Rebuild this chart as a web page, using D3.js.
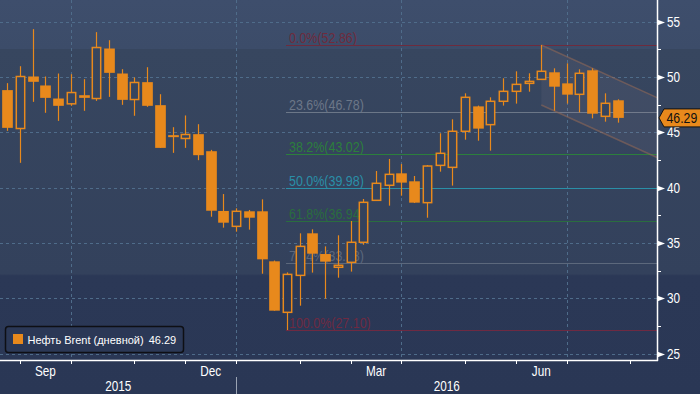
<!DOCTYPE html>
<html>
<head>
<meta charset="utf-8">
<script src="https://cdn.jsdelivr.net/npm/d3@7"></script>
<style>
  body { margin: 0; background: #2b3856; }
  svg { display: block; font-family: "Liberation Sans", Arial, sans-serif; }
</style>
</head>
<body>
<svg id="chart" width="700" height="394"></svg>
<script>
// Weekly candles (week ending Friday)
const weeks = [
  "2015-08-28", "2015-09-04", "2015-09-11", "2015-09-18", "2015-09-25",
  "2015-10-02", "2015-10-09", "2015-10-16", "2015-10-23", "2015-10-30",
  "2015-11-06", "2015-11-13", "2015-11-20", "2015-11-27",
  "2015-12-04", "2015-12-11", "2015-12-18", "2015-12-25",
  "2016-01-01", "2016-01-08", "2016-01-15", "2016-01-22", "2016-01-29",
  "2016-02-05", "2016-02-12", "2016-02-19", "2016-02-26",
  "2016-03-04", "2016-03-11", "2016-03-18", "2016-03-25",
  "2016-04-01", "2016-04-08", "2016-04-15", "2016-04-22", "2016-04-29",
  "2016-05-06", "2016-05-13", "2016-05-20", "2016-05-27",
  "2016-06-03", "2016-06-10", "2016-06-17", "2016-06-24",
  "2016-07-01", "2016-07-08", "2016-07-15", "2016-07-22", "2016-07-29",
];
const opens = [
  48.80, 45.33, 50.03, 49.22, 48.04, 47.56, 48.34, 48.04, 52.56, 50.30,
  47.95, 49.52, 47.44, 44.73, 44.43, 44.82, 43.28, 37.88, 36.49, 37.85,
  37.85, 33.33, 28.72, 32.06, 35.86, 33.99, 32.79, 33.24, 35.05, 38.84,
  40.20, 41.28, 40.56, 38.63, 42.00, 41.82, 45.08, 47.33, 45.68, 47.79,
  48.69, 49.41, 49.77, 50.41, 49.41, 48.42, 50.59, 46.43, 47.88,
];
const highs = [
  49.43, 50.96, 54.31, 50.03, 50.30, 50.24, 49.79, 54.04, 53.31, 50.69,
  49.94, 50.87, 48.43, 45.45, 46.51, 45.72, 43.40, 39.41, 38.12, 37.97,
  38.93, 33.40, 32.33, 35.86, 36.22, 34.68, 35.68, 36.97, 38.96, 41.49,
  42.58, 42.12, 41.04, 42.03, 44.90, 46.16, 48.51, 47.40, 48.15, 49.87,
  50.50, 50.32, 52.88, 50.77, 51.22, 50.68, 50.77, 48.51, 47.97,
];
const lows = [
  45.12, 42.23, 47.74, 46.75, 46.02, 47.38, 46.93, 47.83, 48.19, 47.47,
  46.48, 47.29, 43.58, 43.13, 43.58, 42.47, 37.36, 36.37, 36.01, 36.19,
  32.21, 28.87, 27.12, 29.32, 32.31, 29.96, 31.85, 32.40, 34.83, 38.80,
  38.36, 39.26, 38.60, 37.27, 41.43, 40.17, 44.32, 44.23, 43.33, 47.40,
  47.58, 48.66, 49.77, 46.94, 47.58, 46.79, 46.25, 45.95, 45.86,
];
const closes = [
  45.39, 50.03, 49.55, 48.10, 47.38, 48.58, 48.10, 52.65, 50.36, 47.92,
  49.49, 47.38, 43.58, 44.55, 44.79, 42.92, 37.90, 36.82, 37.85, 37.27,
  33.51, 28.87, 32.15, 34.68, 34.02, 33.30, 32.97, 35.05, 38.66, 40.38,
  41.19, 40.44, 38.63, 41.94, 43.09, 45.08, 48.15, 45.32, 47.79, 48.69,
  49.32, 49.59, 50.50, 49.11, 48.39, 50.32, 46.67, 47.61, 46.29,
];

// Fibonacci retracement levels
const fibLabels = ["0.0%", "23.6%", "38.2%", "50.0%", "61.8%", "76.4%", "100.0%"];
const fibValues = [52.86, 46.78, 43.02, 39.98, 36.94, 33.18, 27.10];
const fibColors = ["#6e2b3d", "#6c7788", "#2c7f3c", "#2a8fa8", "#2a6d3f", "#5c687c", "#6e2a42"];
const fibStart = "2016-01-29";

// Falling channel
const channelDates = ["2016-06-17", "2016-08-20"];
const channelUpper = [52.88, 48.1];
const channelLower = [47.46, 42.68];

// Axis ticks
const yTicks = [25, 30, 35, 40, 45, 50, 55];
const yMinorTicks = [27.5, 32.5, 37.5, 42.5, 47.5, 52.5];
const monthTicks = [
  "2015-09-04", "2015-10-02", "2015-11-06", "2015-12-04", "2016-01-01", "2016-02-05",
  "2016-03-04", "2016-04-01", "2016-05-06", "2016-06-03", "2016-07-01", "2016-08-05",
];
const monthLabels = [
  { text: "Sep", from: "2015-09-04", to: "2015-10-02" },
  { text: "Dec", from: "2015-12-04", to: "2016-01-01" },
  { text: "Mar", from: "2016-03-04", to: "2016-04-01" },
  { text: "Jun", from: "2016-06-03", to: "2016-07-01" },
];
const gridDates = ["2015-10-02", "2016-01-01", "2016-04-01", "2016-07-01"];
const yearLabels = ["2015", "2016"];
const yearBreak = "2016-01-01";

const seriesName = "Нефть Brent (дневной)";
const lastValue = "46.29";

const parse = d3.timeParse("%Y-%m-%d");
const orange = "#e8891c";
const dims = { width: 700, height: 394, plotRight: 657, plotBottom: 360 };

const candles = weeks.map((w, i) => ({
  date: parse(w),
  open: opens[i],
  high: highs[i],
  low: lows[i],
  close: closes[i],
}));

const svg = d3.select("#chart");

// Narrow terminal-style lettering: squeeze text horizontally around its anchor
function squeeze(sel, px, py, sx) {
  return sel.attr("transform", (d, i) => {
    const xx = typeof px === "function" ? px(d, i) : px;
    const yy = typeof py === "function" ? py(d, i) : py;
    return `translate(${xx},${yy}) scale(${sx},1)`;
  });
}

// Background bands
const defs = svg.append("defs");
const grad = defs
  .append("linearGradient")
  .attr("id", "bg")
  .attr("gradientUnits", "userSpaceOnUse")
  .attr("x1", 0).attr("y1", 0).attr("x2", 0).attr("y2", dims.height);
[
  [0, "#3e4e6c"], [0.124, "#3c4c69"], [0.125, "#37465f"],
  [0.695, "#33415c"], [0.7, "#2b3856"], [1, "#2a3755"],
].forEach(([o, c]) => grad.append("stop").attr("offset", o).attr("stop-color", c));
svg.append("rect").attr("width", dims.width).attr("height", dims.height).attr("fill", "url(#bg)");

// Scales
const x = d3
  .scaleTime()
  .domain([parse("2015-08-28"), parse("2016-08-05")])
  .range([7.3, 630.3]);

const y = d3.scaleLinear().domain([25, 55]).range([353.5, 21.5]);

const step = x(parse("2015-09-04")) - x(parse("2015-08-28"));

// Gridlines
svg
  .append("g")
  .selectAll("line")
  .data(yTicks)
  .join("line")
  .attr("x1", 0)
  .attr("x2", dims.plotRight)
  .attr("y1", (d) => Math.round(y(d)) + 0.5)
  .attr("y2", (d) => Math.round(y(d)) + 0.5)
  .attr("stroke", "#4f6c8a")
  .attr("stroke-dasharray", "3,3");

svg
  .append("g")
  .selectAll("line")
  .data(gridDates)
  .join("line")
  .attr("x1", (d) => Math.round(x(parse(d))) + 0.5)
  .attr("x2", (d) => Math.round(x(parse(d))) + 0.5)
  .attr("y1", 0)
  .attr("y2", dims.plotBottom)
  .attr("stroke", "#4f6c8a")
  .attr("stroke-dasharray", "3,3");

// Fibonacci lines and labels
const fib = svg.append("g");
const fibX = x(parse(fibStart)) - 1;
fibValues.forEach((v, i) => {
  const yy = Math.round(y(v)) + 0.5;
  fib
    .append("line")
    .attr("x1", fibX)
    .attr("x2", dims.plotRight)
    .attr("y1", yy)
    .attr("y2", yy)
    .attr("stroke", fibColors[i])
    .attr("stroke-width", 1.2);
  fib
    .append("text")
    .call(squeeze, fibX + 3, yy - 2.5, 0.89)
    .attr("fill", fibColors[i])
    .style("font-size", "14px")
    .text(`${fibLabels[i]}(${v.toFixed(2)})`);
});

// Channel
const chan = channelDates.map((d, i) => ({ date: parse(d), hi: channelUpper[i], lo: channelLower[i] }));
svg
  .append("path")
  .datum(chan)
  .attr("d", d3.area().x((d) => x(d.date)).y0((d) => y(d.lo)).y1((d) => y(d.hi)))
  .attr("fill", "rgba(200,170,180,0.07)");
["hi", "lo"].forEach((k) => {
  svg
    .append("path")
    .datum(chan)
    .attr("d", d3.line().x((d) => x(d.date)).y((d) => y(d[k])))
    .attr("fill", "none")
    .attr("stroke", "rgba(150,105,85,0.55)")
    .attr("stroke-width", 1.6);
});

// Candles
const candleG = svg.append("g").selectAll("g").data(candles).join("g");

candleG
  .append("line")
  .attr("x1", (d) => Math.round(x(d.date)) + 0.5)
  .attr("x2", (d) => Math.round(x(d.date)) + 0.5)
  .attr("y1", (d) => y(d.high))
  .attr("y2", (d) => y(d.low))
  .attr("stroke", orange)
  .attr("stroke-width", 1.2);

// Down weeks: solid bodies
candleG
  .filter((d) => d.close < d.open)
  .append("rect")
  .attr("x", (d) => Math.round(x(d.date)) + 0.5 - step * 0.42)
  .attr("width", step * 0.84)
  .attr("y", (d) => y(d.open))
  .attr("height", (d) => Math.max(1.5, y(d.close) - y(d.open)))
  .attr("fill", orange);

// Up weeks: hollow bodies
candleG
  .filter((d) => d.close >= d.open)
  .append("rect")
  .attr("x", (d) => Math.round(x(d.date)) + 0.5 - step * 0.33)
  .attr("width", step * 0.66)
  .attr("y", (d) => y(d.close))
  .attr("height", (d) => Math.max(1.5, y(d.open) - y(d.close)))
  .attr("fill", "url(#bg)")
  .attr("stroke", orange)
  .attr("stroke-width", 1.5);

// Right axis
const axisG = svg.append("g");
axisG
  .append("line")
  .attr("x1", dims.plotRight + 0.5)
  .attr("x2", dims.plotRight + 0.5)
  .attr("y1", 0)
  .attr("y2", dims.plotBottom + 1)
  .attr("stroke", "#ffffff")
  .attr("stroke-width", 1.5);

axisG
  .selectAll("line.minor")
  .data(yMinorTicks)
  .join("line")
  .attr("class", "minor")
  .attr("x1", dims.plotRight)
  .attr("x2", dims.plotRight + 4)
  .attr("y1", (d) => Math.round(y(d)) + 0.5)
  .attr("y2", (d) => Math.round(y(d)) + 0.5)
  .attr("stroke", "#ffffff");

axisG
  .selectAll("path.major")
  .data(yTicks)
  .join("path")
  .attr("class", "major")
  .attr("d", (d) => {
    const yy = Math.round(y(d)) + 0.5;
    return `M${dims.plotRight},${yy - 3}L${dims.plotRight + 8},${yy}L${dims.plotRight},${yy + 3}Z`;
  })
  .attr("fill", "#ffffff");

axisG
  .selectAll("text")
  .data(yTicks)
  .join("text")
  .call(squeeze, dims.plotRight + 10, (d) => y(d) + 5, 0.84)
  .attr("fill", "#ffffff")
  .style("font-size", "14px")
  .text((d) => d);

// Bottom axis
const xAxisG = svg.append("g");
xAxisG
  .append("line")
  .attr("x1", 0)
  .attr("x2", dims.plotRight + 1)
  .attr("y1", dims.plotBottom + 0.5)
  .attr("y2", dims.plotBottom + 0.5)
  .attr("stroke", "#ffffff")
  .attr("stroke-width", 1.5);

xAxisG
  .selectAll("line.tick")
  .data(monthTicks)
  .join("line")
  .attr("class", "tick")
  .attr("x1", (d) => Math.round(x(parse(d))) + 0.5)
  .attr("x2", (d) => Math.round(x(parse(d))) + 0.5)
  .attr("y1", dims.plotBottom)
  .attr("y2", dims.plotBottom + 4)
  .attr("stroke", "#ffffff");

xAxisG
  .selectAll("text.month")
  .data(monthLabels)
  .join("text")
  .attr("class", "month")
  .call(squeeze, (d) => (x(parse(d.from)) + x(parse(d.to))) / 2, 376, 0.84)
  .attr("text-anchor", "middle")
  .attr("fill", "#ffffff")
  .style("font-size", "14px")
  .text((d) => d.text);

const breakX = Math.round(x(parse(yearBreak))) + 0.5;
xAxisG
  .append("line")
  .attr("x1", breakX)
  .attr("x2", breakX)
  .attr("y1", 377)
  .attr("y2", dims.height)
  .attr("stroke", "#9aa3b3");

xAxisG
  .selectAll("text.year")
  .data(yearLabels)
  .join("text")
  .attr("class", "year")
  .call(squeeze, (d, i) => (i === 0 ? breakX / 2 : (breakX + dims.plotRight) / 2), 391, 0.84)
  .attr("text-anchor", "middle")
  .attr("fill", "#ffffff")
  .style("font-size", "14px")
  .text((d) => d);

// Last price tag
const lastY = y(closes[closes.length - 1]);
const tag = svg.append("g");
tag
  .append("path")
  .attr(
    "d",
    `M${dims.plotRight + 2},${lastY}L${dims.plotRight + 7},${lastY - 9}L${dims.width + 1},${lastY - 9}` +
      `L${dims.width + 1},${lastY + 9}L${dims.plotRight + 7},${lastY + 9}Z`,
  )
  .attr("fill", orange)
  .attr("stroke", "#111111")
  .attr("stroke-width", 1);
tag
  .append("text")
  .call(squeeze, dims.plotRight + 9.5, lastY + 5, 0.88)
  .attr("fill", "#111111")
  .style("font-size", "14px")
  .text(lastValue);

// Legend
const legend = svg.append("g");
legend
  .append("rect")
  .attr("x", 5.5)
  .attr("y", 326.5)
  .attr("width", 178)
  .attr("height", 26)
  .attr("rx", 3)
  .attr("fill", "#2b3856")
  .attr("stroke", "#0e0f14")
  .attr("stroke-width", 1.5);
legend
  .append("rect")
  .attr("x", 13)
  .attr("y", 334)
  .attr("width", 10)
  .attr("height", 10)
  .attr("fill", orange);
const legendText = legend
  .append("text")
  .attr("x", 27.5)
  .attr("y", 344)
  .attr("fill", "#ffffff")
  .style("font-size", "11px");
legendText.append("tspan").text(seriesName);
legendText.append("tspan").attr("dx", 5).text(lastValue);
</script>
</body>
</html>
